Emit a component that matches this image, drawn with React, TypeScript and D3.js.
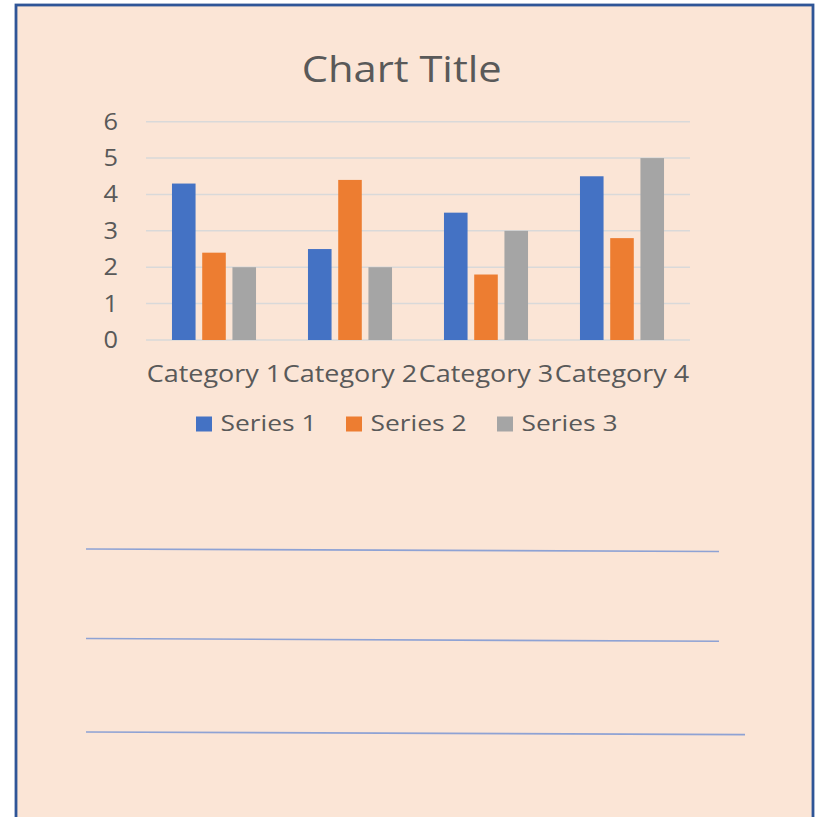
import React from "react";
import * as d3 from "d3";

const categories = ["Category 1", "Category 2", "Category 3", "Category 4"];
const seriesNames = ["Series 1", "Series 2", "Series 3"];
const series1 = [4.3, 2.5, 3.5, 4.5];
const series2 = [2.4, 4.4, 1.8, 2.8];
const series3 = [2, 2, 3, 5];
const yTicks = [0, 1, 2, 3, 4, 5, 6];
const colors = ["#4472C4", "#ED7D31", "#A5A5A5"];

// blank "writing lines" under the chart
const ruleLines = [
  [86, 549, 719, 551.5],
  [86, 638.5, 719, 641.3],
  [86, 732, 745, 734.6],
];

const W = 815;
const H = 817;
const FONT = "'Open Sans', 'Noto Sans', sans-serif";
const TEXT = "#595959";

export default function App() {
  const values = [series1, series2, series3];

  const x0 = d3
    .scaleBand()
    .domain(categories)
    .range([146, 690])
    .paddingInner(0.382)
    .paddingOuter(0.191);

  const x1 = d3
    .scaleBand()
    .domain(seriesNames)
    .range([0, x0.bandwidth()])
    .paddingInner(0.22);

  const y = d3.scaleLinear().domain([0, 6]).range([340, 121.7]);

  const legendX = [196, 346, 497];

  return (
    <svg
      width={W}
      height={H}
      style={{ position: "absolute", left: 0, top: 0 }}
      fontFamily={FONT}
    >
      <rect x={0} y={0} width={W} height={H} fill="#ffffff" />
      <rect
        x={16}
        y={5}
        width={797}
        height={H + 20}
        fill="#FBE5D6"
        stroke="#2F5597"
        strokeWidth={2.8}
      />

      <text
        x={401.7}
        y={82}
        textAnchor="middle"
        fontSize={36}
        fill={TEXT}
        textLength={200}
        lengthAdjust="spacingAndGlyphs"
      >
        Chart Title
      </text>

      {yTicks.map((t) => (
        <g key={t}>
          <line
            x1={146}
            x2={690}
            y1={y(t)}
            y2={y(t)}
            stroke="#D9D9D9"
            strokeWidth={1.5}
          />
          <text
            x={118}
            y={y(t) + 8}
            textAnchor="end"
            fontSize={23}
            fill={TEXT}
            textLength={14.5}
            lengthAdjust="spacingAndGlyphs"
          >
            {t}
          </text>
        </g>
      ))}

      {categories.map((c, i) => (
        <g key={c} transform={`translate(${x0(c)},0)`}>
          {seriesNames.map((s, j) => (
            <rect
              key={s}
              x={x1(s)}
              y={y(values[j][i])}
              width={x1.bandwidth()}
              height={y(0) - y(values[j][i])}
              fill={colors[j]}
            />
          ))}
        </g>
      ))}

      {categories.map((c) => (
        <text
          key={c}
          x={(x0(c) as number) + x0.bandwidth() / 2}
          y={382}
          textAnchor="middle"
          fontSize={23.8}
          fill={TEXT}
          textLength={134.5}
          lengthAdjust="spacingAndGlyphs"
        >
          {c}
        </text>
      ))}

      {seriesNames.map((s, j) => (
        <g key={s}>
          <rect x={legendX[j]} y={416.5} width={16} height={15} fill={colors[j]} />
          <text
            x={legendX[j] + 24.5}
            y={431}
            fontSize={22.4}
            fill={TEXT}
            textLength={96}
            lengthAdjust="spacingAndGlyphs"
          >
            {s}
          </text>
        </g>
      ))}

      {ruleLines.map((l, i) => (
        <line
          key={i}
          x1={l[0]}
          y1={l[1]}
          x2={l[2]}
          y2={l[3]}
          stroke="#8EA2D4"
          strokeWidth={1.6}
        />
      ))}
    </svg>
  );
}
